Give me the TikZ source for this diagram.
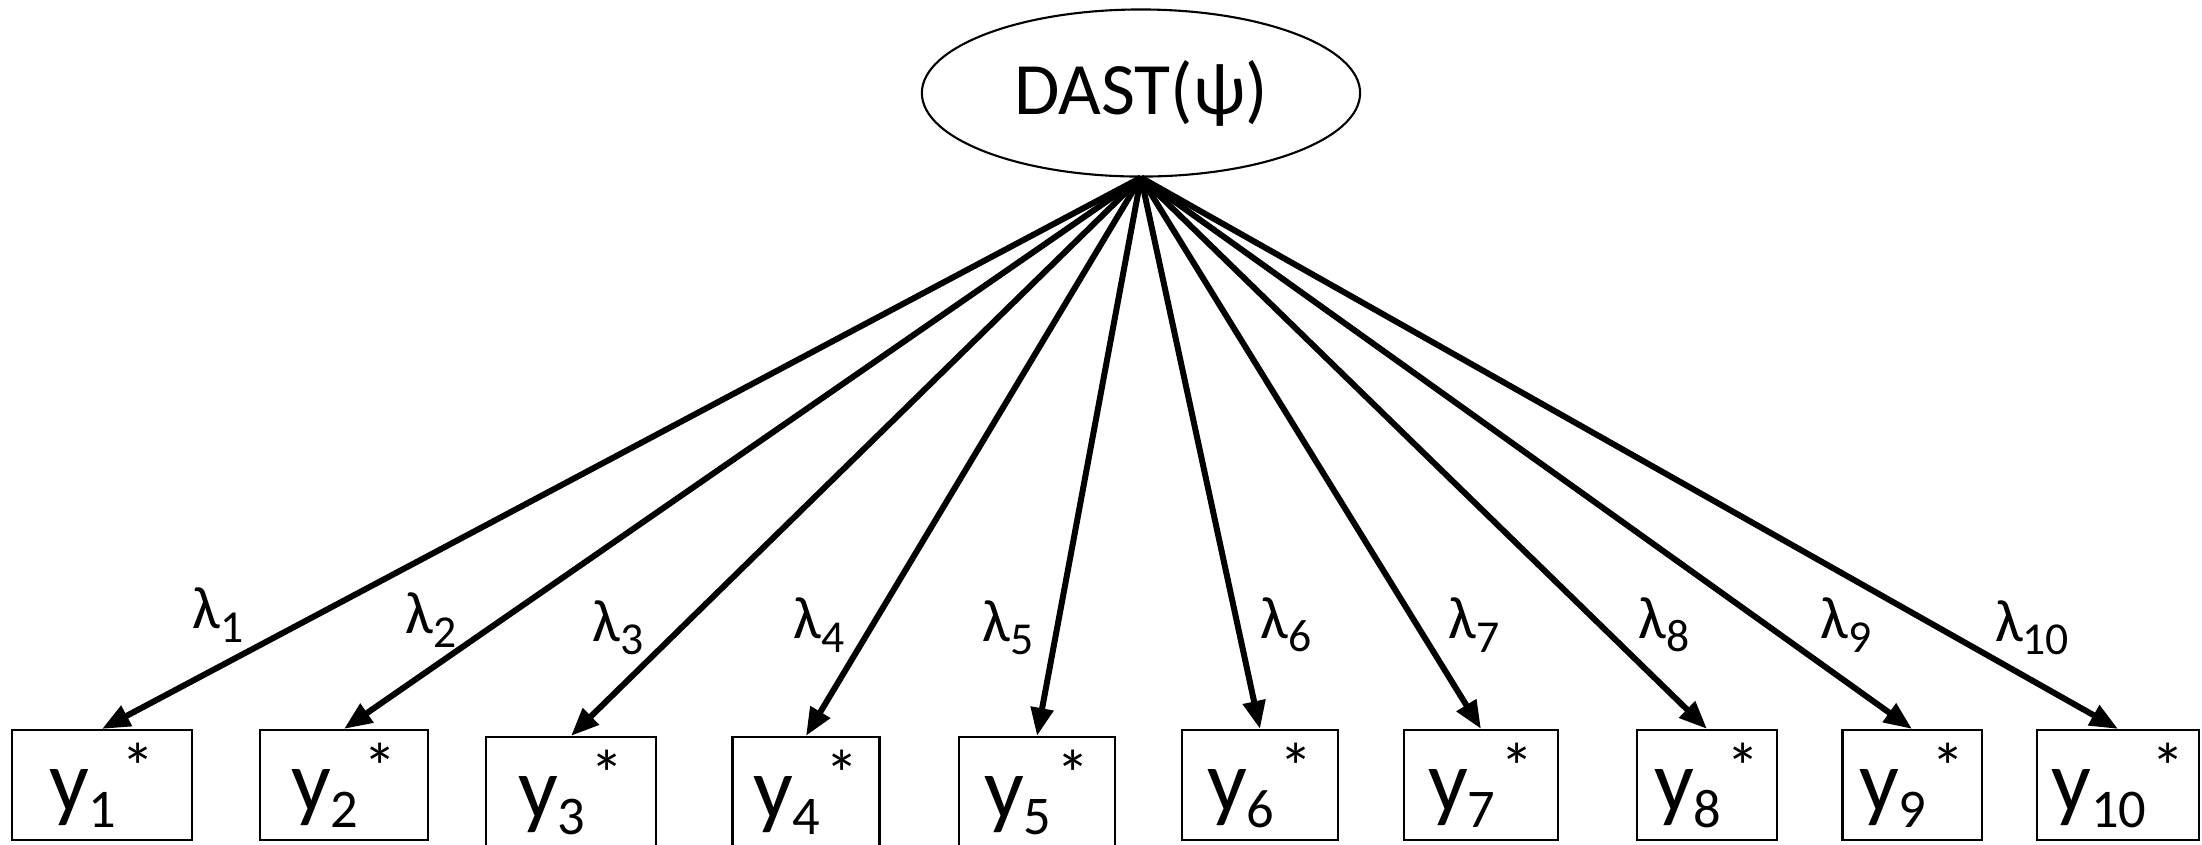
\documentclass[tikz,border=0pt]{standalone}
\usepackage{fontspec}
\setmainfont{Carlito}
\usetikzlibrary{arrows.meta, shapes.geometric}

\newcommand{\obsvar}[1]{y\raisebox{-4.5pt}{\fontsize{15.5}{15.5}\selectfont #1}\kern1.5pt\raisebox{6pt}{\fontsize{19}{19}\selectfont *}}
\newcommand{\loading}[1]{λ\raisebox{-3.8pt}{\fontsize{13}{13}\selectfont #1}}

\begin{document}
\begin{tikzpicture}[
  x=0.01cm, y=-0.01cm,
  latent/.style={draw, ellipse, line width=0.6pt, minimum width=4.38cm,
                 minimum height=1.67cm, inner sep=0pt, font=\fontsize{21}{21}\selectfont},
  indicator/.style={draw, rectangle, line width=0.6pt, minimum height=1.1cm,
                    inner sep=0pt, font=\fontsize{25}{25}\selectfont},
  loadlabel/.style={inner sep=0pt, font=\fontsize{17}{17}\selectfont},
  loadarrow/.style={-{Triangle[length=0.28cm, width=0.22cm]}, line width=1.7pt}
]
  \useasboundingbox (0,0) rectangle (2202,844);
  \node[latent] (dast) at (1141,93) {DAST(ψ)};
  \foreach \i/\cx/\cy/\w/\lx/\ly in {1/102/785/1.80/218/615, 2/344/785/1.68/431/620,
      3/571/792/1.70/618/628, 4/806/792/1.47/819/625, 5/1037/792/1.56/1008/628,
      6/1260/785/1.56/1286/625, 7/1481/785/1.54/1474/625, 8/1707/785/1.40/1664/625,
      9/1912/785/1.39/1846/625, 10/2118/785/1.62/2032/628}
  {
    \node[indicator, minimum width=\w cm] (y\i) at (\cx,\cy) {\obsvar{\i}};
    \draw[loadarrow] (dast.south) -- (y\i.north);
    \node[loadlabel] (lam\i) at (\lx,\ly) {\loading{\i}};
  }
\end{tikzpicture}
\end{document}
